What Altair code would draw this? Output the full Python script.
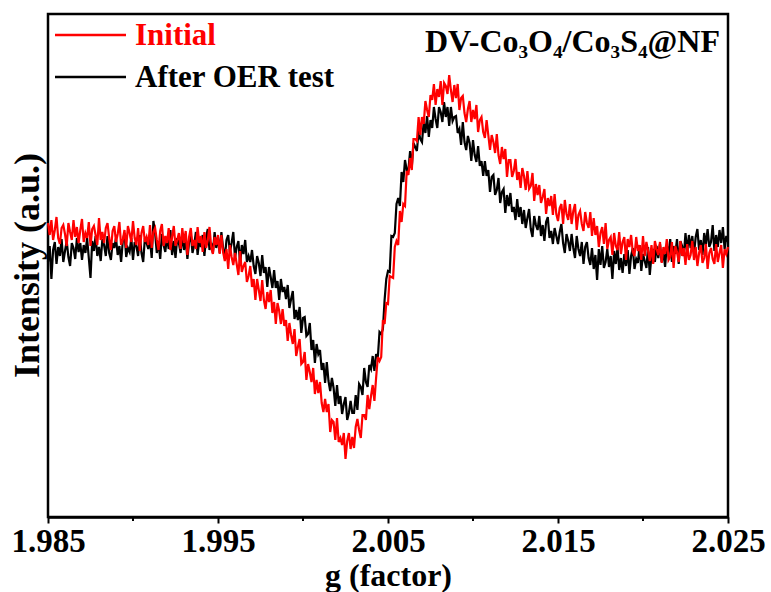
import altair as alt
import pandas as pd

# x sampling of the spectrum (g factor)
G_START = 1.985
G_STEP = 0.0001

SERIES = ["Initial", "After OER test"]
COLORS = ["#ff0000", "#000000"]

# Intensity (a.u.), one value per g step (401 each)
initial = [
    294, 282, 297, 277, 287, 300, 279, 273, 289, 292, 283, 271, 294, 285, 277, 297, 280, 290, 274, 287,
    298, 275, 284, 279, 295, 271, 288, 291, 282, 272, 299, 277, 285, 274, 289, 294, 279, 267, 286, 291,
    275, 283, 295, 272, 277, 287, 269, 291, 284, 275, 296, 279, 272, 289, 266, 284, 291, 275, 280, 272,
    292, 269, 285, 289, 277, 267, 286, 293, 271, 281, 274, 289, 267, 280, 291, 271, 277, 284, 268, 289,
    274, 286, 262, 280, 289, 271, 277, 268, 290, 274, 281, 265, 285, 269, 277, 290, 270, 263, 280, 272,
    282, 263, 282, 265, 256, 268, 248, 272, 260, 252, 264, 253, 242, 266, 245, 251, 255, 235, 241, 251,
    230, 238, 217, 238, 227, 216, 237, 217, 208, 225, 215, 227, 204, 215, 193, 214, 206, 193, 208, 191,
    197, 176, 194, 182, 173, 188, 161, 170, 178, 153, 155, 165, 137, 153, 145, 135, 149, 123, 137, 124,
    135, 114, 105, 118, 105, 113, 85, 97, 95, 77, 99, 75, 79, 72, 84, 58, 76, 84, 68, 80,
    69, 90, 98, 87, 79, 102, 102, 97, 122, 108, 121, 132, 116, 139, 160, 156, 160, 197, 193, 214,
    213, 241, 240, 239, 270, 276, 272, 306, 295, 313, 311, 346, 342, 359, 347, 378, 378, 376, 400, 382,
    400, 393, 416, 407, 400, 422, 417, 433, 412, 428, 420, 436, 412, 434, 431, 423, 442, 427, 415, 432,
    419, 433, 407, 419, 421, 404, 395, 408, 416, 395, 407, 398, 412, 385, 397, 400, 385, 379, 397, 382,
    367, 382, 375, 364, 383, 362, 353, 370, 358, 368, 340, 357, 357, 340, 346, 358, 337, 345, 329, 349,
    341, 327, 346, 328, 331, 344, 316, 333, 322, 332, 314, 320, 328, 303, 319, 311, 321, 302, 323, 303,
    296, 309, 313, 293, 317, 303, 297, 313, 293, 306, 313, 287, 302, 306, 293, 286, 305, 294, 289, 305,
    281, 299, 282, 291, 270, 284, 290, 273, 294, 268, 277, 280, 262, 284, 271, 267, 285, 263, 275, 280,
    257, 278, 270, 282, 265, 261, 280, 266, 272, 257, 281, 261, 275, 266, 256, 272, 253, 276, 268, 262,
    275, 254, 270, 263, 278, 257, 260, 275, 249, 271, 265, 255, 276, 261, 269, 252, 273, 257, 262, 276,
    257, 270, 251, 264, 272, 254, 259, 273, 248, 264, 269, 258, 253, 273, 255, 264, 272, 249, 268, 263, 270,
]
after_oer = [
    255, 271, 238, 267, 275, 253, 270, 261, 278, 255, 266, 276, 260, 251, 274, 269, 258, 279, 265, 274,
    257, 272, 264, 279, 259, 239, 276, 266, 281, 261, 270, 256, 278, 272, 261, 281, 264, 257, 274, 269,
    279, 262, 271, 255, 276, 284, 260, 269, 265, 279, 257, 275, 271, 261, 282, 264, 255, 279, 274, 268,
    278, 259, 296, 284, 264, 275, 258, 283, 272, 265, 280, 268, 287, 262, 276, 259, 279, 274, 264, 282,
    267, 278, 258, 275, 283, 264, 272, 285, 262, 277, 270, 282, 261, 280, 288, 267, 274, 264, 285, 269,
    280, 264, 285, 269, 259, 277, 282, 265, 274, 285, 259, 270, 276, 253, 272, 263, 277, 255, 261, 255,
    267, 251, 243, 261, 254, 241, 262, 244, 250, 230, 250, 240, 229, 247, 229, 236, 217, 238, 225, 230,
    218, 232, 209, 218, 226, 198, 207, 197, 210, 184, 199, 200, 181, 183, 194, 167, 177, 154, 173, 163,
    167, 147, 154, 134, 155, 136, 126, 139, 129, 111, 132, 113, 121, 103, 113, 120, 97, 104, 116, 104,
    104, 122, 107, 133, 130, 122, 149, 135, 130, 152, 148, 161, 146, 163, 159, 185, 183, 188, 217, 238,
    246, 245, 281, 280, 284, 313, 319, 311, 345, 335, 357, 347, 347, 366, 350, 374, 370, 366, 386, 378,
    375, 395, 384, 401, 380, 397, 389, 410, 398, 389, 410, 405, 395, 415, 400, 410, 391, 410, 396, 400,
    401, 384, 388, 372, 395, 375, 367, 381, 374, 356, 377, 362, 355, 371, 351, 356, 341, 356, 341, 347,
    325, 340, 342, 322, 327, 339, 314, 325, 328, 304, 322, 311, 324, 305, 310, 297, 318, 300, 310, 293,
    307, 289, 299, 308, 288, 280, 301, 292, 287, 301, 281, 292, 276, 295, 300, 279, 286, 273, 289, 281,
    273, 285, 293, 274, 264, 283, 276, 266, 283, 269, 259, 281, 268, 261, 275, 253, 270, 275, 259, 252,
    269, 248, 262, 237, 268, 252, 271, 249, 255, 268, 250, 261, 238, 266, 253, 270, 247, 259, 244, 263,
    251, 267, 243, 261, 269, 248, 258, 254, 272, 246, 263, 256, 249, 270, 242, 262, 268, 255, 271, 259,
    273, 255, 265, 250, 272, 262, 278, 255, 271, 263, 278, 253, 276, 271, 261, 284, 265, 282, 269, 281,
    263, 280, 288, 267, 277, 262, 284, 272, 288, 270, 275, 292, 266, 282, 270, 287, 274, 290, 268, 281, 275,
]

MAJOR_TICKS = [1.985, 1.995, 2.005, 2.015, 2.025]
MINOR_TICKS = [1.990, 2.000, 2.010, 2.020]
SAMPLE_LABEL = "DV-Co\u2083O\u2084/Co\u2083S\u2084@NF"

FONT = "Liberation Serif, Times New Roman, DejaVu Serif, serif"
W, H = 680, 503

rows = []
for name, vals in zip(SERIES, [initial, after_oer]):
    for i, v in enumerate(vals):
        rows.append({"g": round(G_START + i * G_STEP, 5), "I": v, "series": name})
df = pd.DataFrame(rows)

xscale = alt.Scale(domain=[1.985, 2.025], nice=False, zero=False)
yscale = alt.Scale(domain=[0, 503], nice=False, zero=False)

xaxis = alt.Axis(
    values=MAJOR_TICKS, format=".3f", title="g (factor)",
    labelFont=FONT, labelFontSize=33, labelFontWeight="bold", labelColor="black",
    labelPadding=2, labelOverlap=False, labelFlush=False, labelBound=False,
    tickSize=6, tickWidth=2, tickColor="black",
    domainColor="black", domainWidth=2.5, grid=False,
    titleFont=FONT, titleFontSize=32, titleFontWeight="bold", titleColor="black",
    titleBaseline="alphabetic", titleY=68,
)
yaxis = alt.Axis(
    title="Intensity (a.u.)", labels=False, ticks=False, domain=False, grid=False,
    titleFont=FONT, titleFontSize=36, titleFontWeight="bold", titleColor="black",
    titleAngle=270, titleAlign="center", titleBaseline="alphabetic",
    titleX=-10, titleY=251,
)

base = alt.Chart(df)
black_line = base.transform_filter(alt.datum.series == SERIES[1]).mark_line(
    color=COLORS[1], strokeWidth=2.2
).encode(
    x=alt.X("g:Q", scale=xscale, axis=xaxis),
    y=alt.Y("I:Q", scale=yscale, axis=yaxis),
)
red_line = base.transform_filter(alt.datum.series == SERIES[0]).mark_line(
    color=COLORS[0], strokeWidth=2.2
).encode(
    x=alt.X("g:Q", scale=xscale),
    y=alt.Y("I:Q", scale=yscale),
)

minor = alt.Chart(pd.DataFrame({"g": MINOR_TICKS})).mark_rule(
    color="black", strokeWidth=2, clip=False
).encode(
    x=alt.X("g:Q", scale=xscale),
    y=alt.value(H), y2=alt.value(H + 4),
)

leg_df = pd.DataFrame({"label": SERIES, "color": COLORS, "ypos": [21, 63]})
leg_lines = alt.Chart(leg_df).mark_rule(strokeWidth=2.5).encode(
    x=alt.value(7), x2=alt.value(78),
    y=alt.Y("ypos:Q", scale=None),
    color=alt.Color("color:N", scale=None),
)
leg_text = alt.Chart(leg_df).mark_text(
    font=FONT, fontSize=31, fontWeight="bold", align="left", baseline="middle", dy=1
).encode(
    x=alt.value(87),
    y=alt.Y("ypos:Q", scale=None),
    text="label:N",
    color=alt.Color("color:N", scale=None),
)

sample = alt.Chart(pd.DataFrame({"t": [SAMPLE_LABEL]})).mark_text(
    font=FONT, fontSize=32, fontWeight="bold", align="right", baseline="middle",
    color="black",
).encode(x=alt.value(672), y=alt.value(28), text="t:N")

chart = alt.layer(black_line, red_line, minor, leg_lines, leg_text, sample).properties(
    width=W, height=H,
    autosize=alt.AutoSizeParams(type="none"),
    padding={"left": 48, "top": 14, "right": 43, "bottom": 75},
    background="white",
).configure_view(stroke="black", strokeWidth=2.5)

chart.save("out.html", embed_options={"renderer": "svg", "actions": False})
